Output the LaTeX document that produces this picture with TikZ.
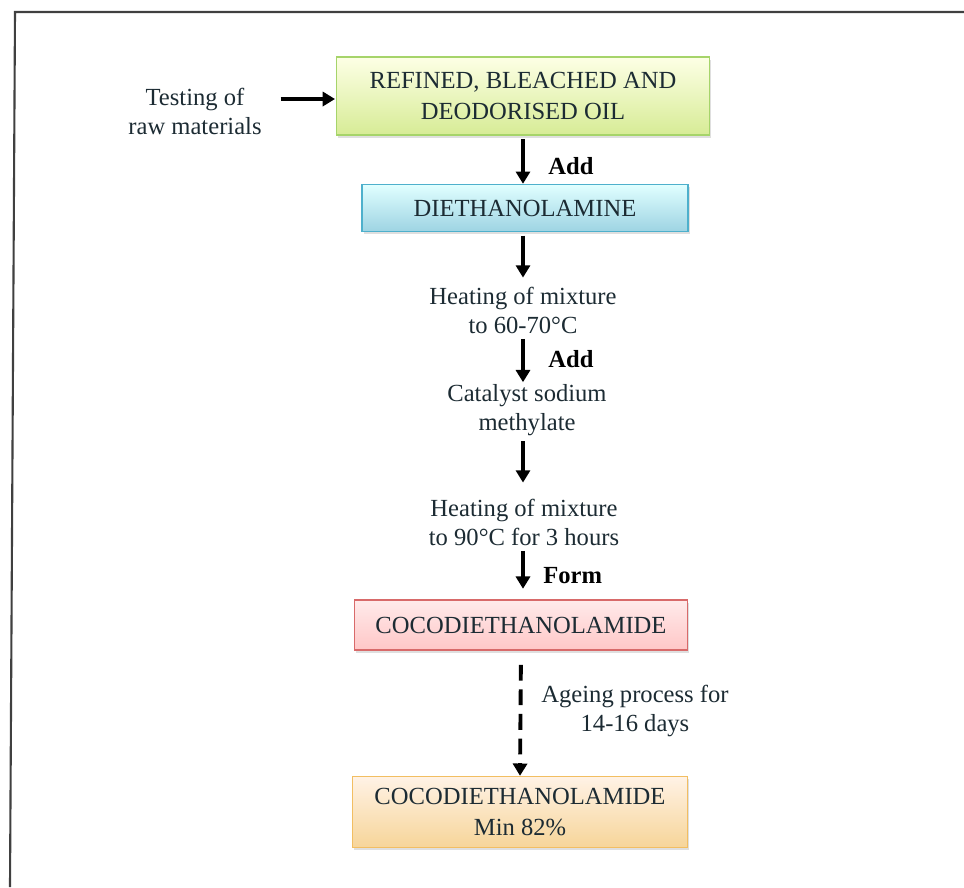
\documentclass[tikz,border=0pt]{standalone}
\usepackage{fontspec}
\setmainfont{Liberation Serif}
\usetikzlibrary{arrows.meta,shadows}

\definecolor{inkdark}{HTML}{1C2B33}
\definecolor{greenedge}{HTML}{A6D46A}
\definecolor{blueedge}{HTML}{4EB0CC}
\definecolor{rededge}{HTML}{D86A6A}
\definecolor{orangeedge}{HTML}{F2BE62}

\tikzset{
  stage/.style={draw, line width=0.8pt, align=center, text=inkdark,
    font=\fontsize{14}{17.5}\selectfont, drop shadow={opacity=0.25, shadow xshift=1pt, shadow yshift=-1.5pt}},
  note/.style={align=center, text=inkdark, font=\fontsize{14}{16.5}\selectfont, inner sep=1pt},
  verb/.style={font=\bfseries\fontsize{14}{16}\selectfont, text=black, anchor=west, inner sep=0pt},
  flow/.style={line width=2.2pt, -{Triangle[length=7pt,width=8pt]}, shorten <=2pt},
}

\begin{document}
\begin{tikzpicture}[x=0.02cm, y=-0.02cm]
        \useasboundingbox (0,0) rectangle (964,887);
        \draw[line width=1.2pt, draw=black!75] (964,12) -- (15,12) -- (10,887);

        % boxes
        \node[stage, draw=greenedge, top color=green!8!yellow!10, bottom color=greenedge!75!yellow!60,
              minimum width=7.46cm, minimum height=1.56cm] (oil) at (523,96)
              {REFINED, BLEACHED AND\\DEODORISED OIL};
        \node[stage, draw=blueedge, top color=cyan!12, bottom color=blueedge!55,
              minimum width=6.52cm, minimum height=0.94cm] (dea) at (525,208) {DIETHANOLAMINE};
        \node[stage, draw=rededge, top color=red!8, bottom color=red!22,
              minimum width=6.66cm, minimum height=1.0cm] (cde) at (521,625) {COCODIETHANOLAMIDE};
        \node[stage, draw=orangeedge, top color=orange!10, bottom color=orangeedge!65,
              minimum width=6.7cm, minimum height=1.42cm] (final) at (520,812)
              {COCODIETHANOLAMIDE\\Min 82\%};

        % texts
        \node[note] (test) at (195,111) {Testing of\\raw materials};
        \node[note] (heatA) at (523,310) {Heating of mixture\\to 60-70°C};
        \node[note] (cat) at (527,410) {Catalyst sodium\\methylate};
        \node[note] (heatB) at (524,522) {Heating of mixture\\to 90°C for 3 hours};
        \node[note] (ageing) at (635,711) {Ageing process for\\14-16 days};
        \node[verb] (addA) at (548,166) {Add};
        \node[verb] (addB) at (548,359) {Add};
        \node[verb] (form) at (543,576) {Form};

        \coordinate (testend) at (277,99);
        \coordinate (oilin) at (335,99);
        \coordinate (axis) at (523,0);

        % arrows
        \draw[flow] (testend) -- (oilin);
        \draw[flow] (axis |- oil.south) -- (axis |- dea.north);
        \draw[flow, shorten >=4pt] (axis |- dea.south) -- (axis |- heatA.north);
        \draw[flow] (axis |- heatA.south) -- (axis |- cat.north);
        \draw[flow, shorten >=8pt] (axis |- cat.south) -- (axis |- heatB.north);
        \draw[flow, shorten >=6pt] (axis |- heatB.south) -- (axis |- cde.north);
        \draw[flow, dash pattern=on 9pt off 5pt, shorten <=8pt] (cde.south) -- (final.north);
\end{tikzpicture}
\end{document}
